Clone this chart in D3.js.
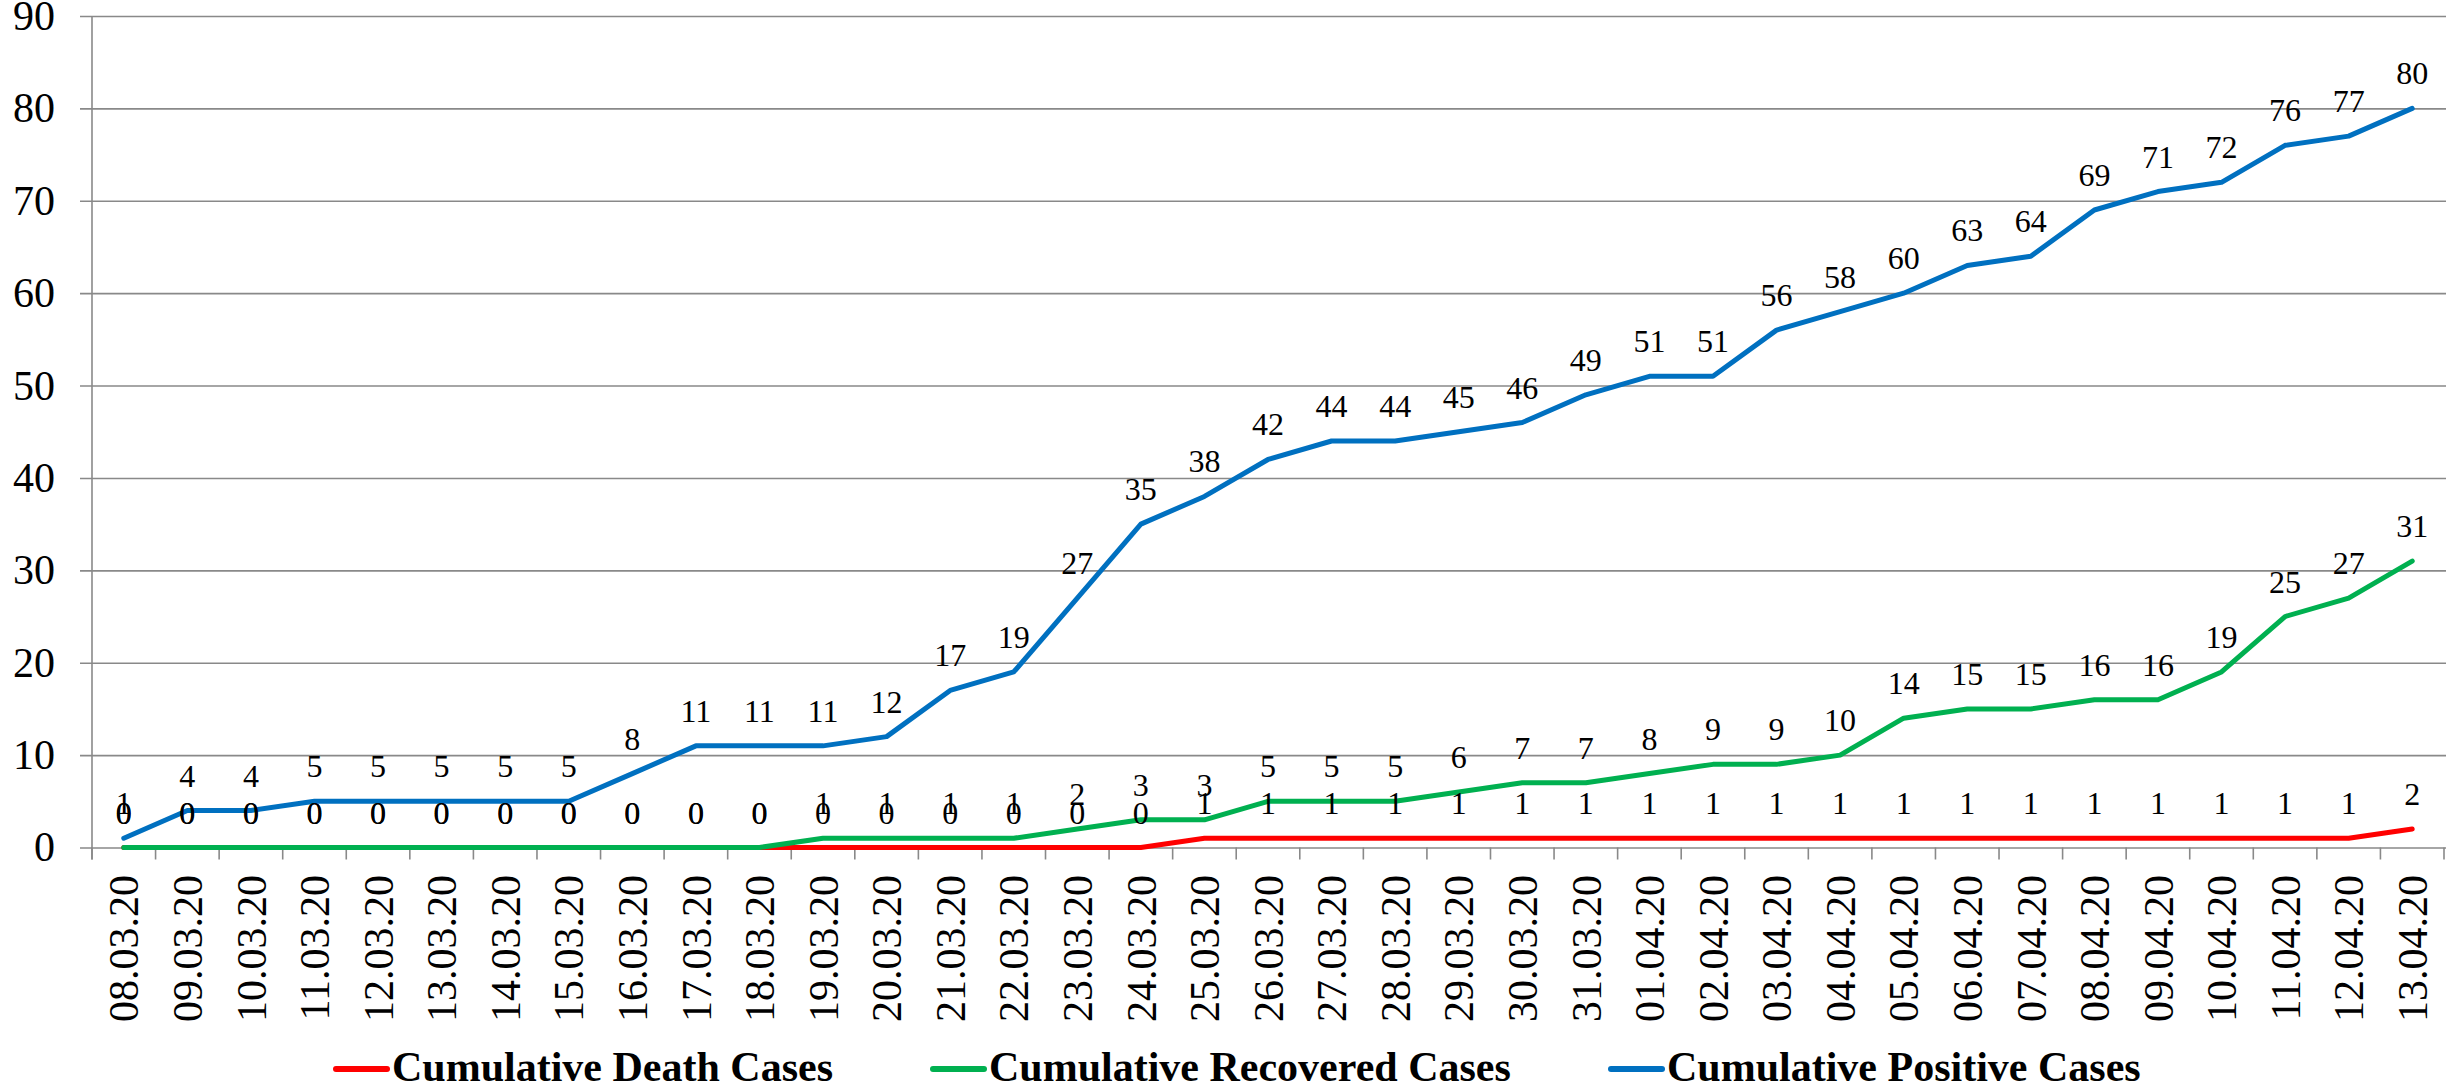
<!DOCTYPE html>
<html><head><meta charset="utf-8">
<script src="https://cdn.jsdelivr.net/npm/d3@7"></script>
<style>
html,body{margin:0;padding:0;background:#fff;}
svg{display:block;font-family:"Liberation Serif","Times New Roman",serif;}
svg text{font-family:"Liberation Serif","Times New Roman",serif;}
</style></head>
<body>
<svg id="chart" width="2461" height="1091"></svg>
<script>
const dates = ["08.03.20","09.03.20","10.03.20","11.03.20","12.03.20","13.03.20","14.03.20","15.03.20","16.03.20","17.03.20","18.03.20","19.03.20","20.03.20","21.03.20","22.03.20","23.03.20","24.03.20","25.03.20","26.03.20","27.03.20","28.03.20","29.03.20","30.03.20","31.03.20","01.04.20","02.04.20","03.04.20","04.04.20","05.04.20","06.04.20","07.04.20","08.04.20","09.04.20","10.04.20","11.04.20","12.04.20","13.04.20"];
const deathCases = [0,0,0,0,0,0,0,0,0,0,0,0,0,0,0,0,0,1,1,1,1,1,1,1,1,1,1,1,1,1,1,1,1,1,1,1,2];
const recoveredCases = [0,0,0,0,0,0,0,0,0,0,0,1,1,1,1,2,3,3,5,5,5,6,7,7,8,9,9,10,14,15,15,16,16,19,25,27,31];
const positiveCases = [1,4,4,5,5,5,5,5,8,11,11,11,12,17,19,27,35,38,42,44,44,45,46,49,51,51,56,58,60,63,64,69,71,72,76,77,80];
const yTicks = [0,10,20,30,40,50,60,70,80,90];
const seriesNames = ["Cumulative Death Cases","Cumulative Recovered Cases","Cumulative Positive Cases"];
const seriesColors = ["#FF0000","#00B050","#0070C0"];

const series = [deathCases, recoveredCases, positiveCases].map((v,i)=>({name:seriesNames[i], color:seriesColors[i], values:v}));

const svg = d3.select("#chart");
const mLeft = 92, mRight = 2444, mTop = 16, mBottom = 847.5;
const x = d3.scaleBand().domain(dates).range([mLeft, mRight]);
const y = d3.scaleLinear().domain([0, 90]).range([mBottom, mTop]);
const gridColor = "#898989";
const FONT = "'Liberation Serif', 'Times New Roman', serif";

// gridlines + y labels
const yAxis = d3.axisLeft(y).tickValues(yTicks).tickSize(-(mRight + 2 - 80)).tickPadding(25).tickFormat(d3.format("d"));
const gy = svg.append("g").attr("transform", "translate(80,0)").call(yAxis);
gy.attr("font-family", FONT);
gy.select(".domain").remove();
gy.selectAll(".tick line").attr("stroke", gridColor).attr("stroke-width", 1.6);
gy.selectAll(".tick text").attr("font-size", 42).attr("fill", "#000").attr("font-family", FONT);

// y axis line
svg.append("line").attr("x1", mLeft).attr("x2", mLeft).attr("y1", mTop).attr("y2", mBottom + 12)
  .attr("stroke", gridColor).attr("stroke-width", 1.6);

// x ticks at boundaries
const bounds = dates.map(d => x(d)).concat([mRight]);
svg.append("g").selectAll("line").data(bounds).join("line")
  .attr("x1", d => d).attr("x2", d => d).attr("y1", mBottom).attr("y2", mBottom + 12)
  .attr("stroke", gridColor).attr("stroke-width", 1.6);

// x labels
svg.append("g").selectAll("text").data(dates).join("text")
  .attr("transform", d => `translate(${x(d) + x.bandwidth()/2},875) rotate(-90)`)
  .attr("text-anchor", "end").attr("dy", "0.35em").attr("font-family", FONT)
  .attr("font-size", 42).attr("fill", "#000").text(d => d);

// lines
const line = d3.line().x((d,i) => x(dates[i]) + x.bandwidth()/2).y(d => y(d));
svg.append("g").selectAll("path").data(series).join("path")
  .attr("d", s => line(s.values)).attr("fill", "none")
  .attr("stroke", s => s.color).attr("stroke-width", 5)
  .attr("stroke-linejoin", "round").attr("stroke-linecap", "round");

// data labels
series.forEach(s => {
  svg.append("g").selectAll("text").data(s.values).join("text")
    .attr("x", (d,i) => x(dates[i]) + x.bandwidth()/2)
    .attr("y", d => y(d) - 24)
    .attr("text-anchor", "middle").attr("font-size", 32).attr("fill", "#000").attr("font-family", FONT)
    .text(d => d);
});

// legend
const legendX = [334, 931, 1609];
const lg = svg.append("g");
series.forEach((s, i) => {
  const lx = legendX[i];
  lg.append("line").attr("x1", lx + 2).attr("x2", lx + 53).attr("y1", 1069).attr("y2", 1069)
    .attr("stroke", s.color).attr("stroke-width", 6).attr("stroke-linecap", "round");
  lg.append("text").attr("x", lx + 58).attr("y", 1081).attr("font-family", FONT)
    .attr("font-size", 42).attr("font-weight", "bold").attr("fill", "#000").text(s.name);
});
</script>
</body></html>
